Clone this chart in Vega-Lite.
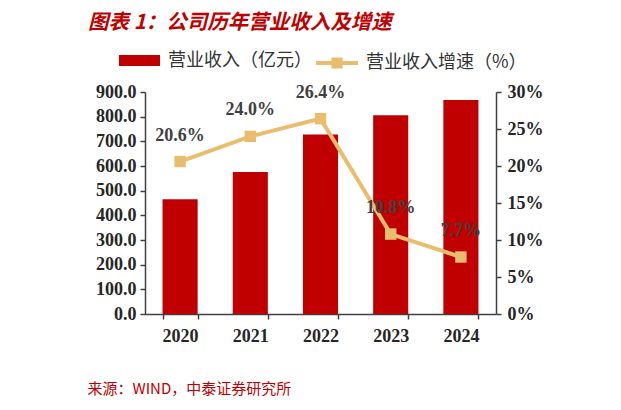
{
  "$schema": "https://vega.github.io/schema/vega-lite/v6.json",
  "width": 351,
  "height": 222,
  "autosize": {"type": "none"},
  "padding": {"left": 145, "top": 92, "right": 125, "bottom": 96},
  "background": "white",
  "title": {
    "text": "图表 1：公司历年营业收入及增速",
    "anchor": "start",
    "frame": "group",
    "dx": -57,
    "offset": 7,
    "font": "Noto Sans CJK SC",
    "fontSize": 20.5,
    "fontWeight": "bold",
    "fontStyle": "italic",
    "color": "#C00000"
  },
  "config": {
    "view": {"stroke": null},
    "axis": {
      "labelFont": "Liberation Serif",
      "labelFontWeight": "bold",
      "labelFontSize": 18,
      "labelColor": "#262626",
      "domainColor": "#404040",
      "domainWidth": 1.5,
      "tickColor": "#404040",
      "tickWidth": 1.5,
      "tickSize": 5,
      "grid": false
    },
    "legend": {
      "labelFont": "Noto Sans CJK SC",
      "labelFontSize": 18,
      "labelColor": "#333333",
      "labelLimit": 400,
      "padding": 0,
      "title": null
    }
  },
  "data": {
    "values": [
      {"year": "2020", "revenue": 465, "growth": 0.206},
      {"year": "2021", "revenue": 576, "growth": 0.240},
      {"year": "2022", "revenue": 728, "growth": 0.264},
      {"year": "2023", "revenue": 806, "growth": 0.108},
      {"year": "2024", "revenue": 868, "growth": 0.077}
    ]
  },
  "encoding": {
    "x": {
      "field": "year",
      "type": "nominal",
      "scale": {"paddingInner": 0.5, "paddingOuter": 0.25},
      "axis": {
        "labelAngle": 0,
        "tickBand": "extent",
        "labelPadding": 8,
        "title": "来源：WIND，中泰证券研究所",
        "titleFont": "Noto Sans CJK SC",
        "titleFontSize": 15,
        "titleFontWeight": "normal",
        "titleColor": "#C00000",
        "titleAnchor": "start",
        "titleAlign": "left",
        "titleBaseline": "middle",
        "titleX": -58,
        "titleY": 74
      }
    }
  },
  "layer": [
    {
      "mark": {"type": "bar"},
      "encoding": {
        "y": {
          "field": "revenue",
          "type": "quantitative",
          "scale": {"domain": [0, 900]},
          "axis": {"title": null, "format": ".1f", "values": [0,100,200,300,400,500,600,700,800,900], "labelPadding": 4}
        },
        "fill": {
          "datum": "营业收入（亿元）",
          "type": "nominal",
          "scale": {"range": ["#C00000"]},
          "legend": {
            "orient": "none",
            "legendX": -26,
            "legendY": -52,
            "symbolType": "M-1,-0.27H1V0.27H-1Z",
            "symbolSize": 1681,
            "symbolStrokeWidth": 0,
            "labelOffset": 8
          }
        }
      }
    },
    {
      "encoding": {
        "y": {
          "field": "growth",
          "type": "quantitative",
          "scale": {"domain": [0, 0.3]},
          "axis": {"title": null, "orient": "right", "format": ".0%", "values": [0,0.05,0.1,0.15,0.2,0.25,0.3], "labelPadding": 6}
        }
      },
      "layer": [
        {
          "mark": {"type": "line", "strokeWidth": 4},
          "encoding": {
            "stroke": {
              "datum": "营业收入增速（%）",
              "type": "nominal",
              "scale": {"range": ["#E8BE6E"]},
              "legend": {
                "orient": "none",
                "legendX": 169,
                "legendY": -52,
                "symbolType": "M-1,0H1M-0.17,-0.17H0.17V0.17H-0.17Z",
                "symbolSize": 1764,
                "symbolStrokeWidth": 4,
                "symbolFillColor": "#E8BE6E",
                "labelOffset": 6,
                "encode": {"symbols": {"update": {"fill": {"value": "#E8BE6E"}, "strokeWidth": {"value": 4}}}}
              }
            }
          }
        },
        {
          "mark": {"type": "point", "shape": "square", "filled": true, "size": 130, "color": "#E8BE6E", "opacity": 1}
        },
        {
          "mark": {"type": "text", "dy": -26, "font": "Liberation Serif", "fontWeight": "bold", "fontSize": 18, "color": "#404040"},
          "encoding": {
            "text": {"field": "growth", "type": "quantitative", "format": ".1%"}
          }
        }
      ]
    }
  ],
  "resolve": {"scale": {"y": "independent"}}
}
